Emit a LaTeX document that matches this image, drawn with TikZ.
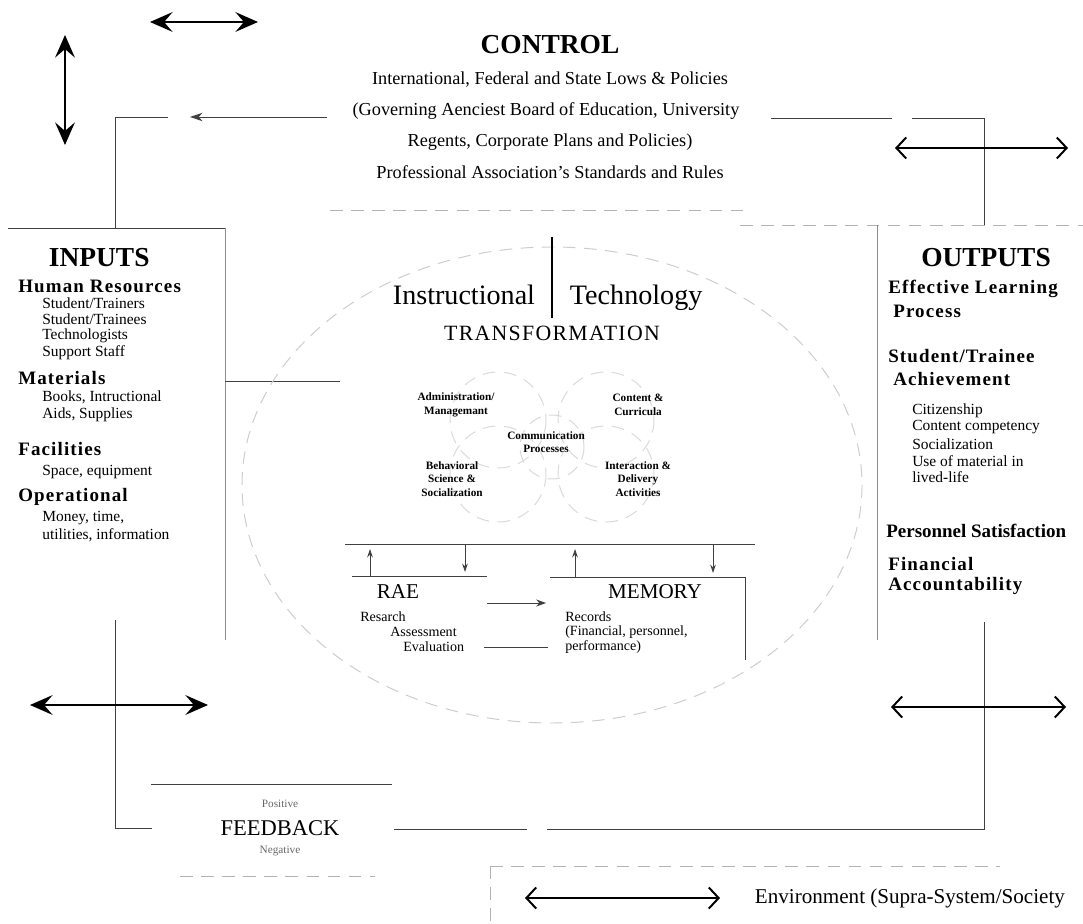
\documentclass[tikz,border=0pt]{standalone}
\usepackage{fontspec}
\setmainfont{Liberation Serif}
\newfontfamily\spaced[LetterSpace=6]{Liberation Serif}
\usetikzlibrary{arrows.meta,positioning}

\begin{document}
\begin{tikzpicture}[x=0.025cm, y=-0.025cm,
                    dbl/.style={{Stealth[length=16pt,width=14pt,inset=6pt]}-{Stealth[length=16pt,width=14pt,inset=6pt]}, line width=1.6pt},
                    barb/.style={{Straight Barb[length=7pt,width=15pt,line width=1.4pt]}-{Straight Barb[length=7pt,width=15pt,line width=1.4pt]}, line width=1.6pt},
                    wire/.style={black!75, line width=0.6pt},
                    edge/.style={black!45, line width=0.6pt},
                    faint/.style={black!30, line width=0.7pt, dash pattern=on 9pt off 6pt},
                    title/.style={font=\bfseries\fontsize{19.5}{22}\selectfont},
                    head/.style={anchor=west, inner sep=0pt, font=\spaced\bfseries\fontsize{13.5}{16}\selectfont},
                    item/.style={anchor=west, inner sep=0pt, font=\fontsize{11}{13}\selectfont},
                    ctrl/.style={inner sep=0pt, font=\fontsize{13}{15}\selectfont},
                    circ/.style={align=center, inner sep=0pt, font=\bfseries\fontsize{8}{9.5}\selectfont},
                    note/.style={anchor=west, inner sep=0pt, font=\fontsize{10}{12}\selectfont}]
\useasboundingbox (0,0) rectangle (1083,924);

% control
\node[title] (control) at (550,45) {CONTROL};
\node[ctrl] (laws) at (550,80) {International, Federal and State Lows \& Policies};
\node[ctrl] (gov) at (546,111) {(Governing Aenciest Board of Education, University};
\node[ctrl] (regents) at (550,142) {Regents, Corporate Plans and Policies)};
\node[ctrl] (prof) at (550,172) {Professional Association's Standards and Rules};

\coordinate (hzL) at (150,22);  \coordinate (hzR) at (258,22);
\coordinate (vtT) at (65,35);   \coordinate (vtB) at (65,145);
\draw[dbl] (hzL) -- (hzR);
\draw[dbl] (vtT) -- (vtB);

\coordinate (inTop) at (115,228);
\coordinate (ctlL) at (168,117);
\coordinate (ctlA) at (327,117);
\coordinate (ctlB) at (190,117);
\draw[wire] (inTop) |- (ctlL);
\draw[wire, -{Stealth[length=9pt,width=6pt]}] (ctlA) -- (ctlB);

\coordinate (ctlR1) at (771,118); \coordinate (ctlR2) at (892,118);
\coordinate (ctlR3) at (912,118); \coordinate (outTop) at (984,225);
\draw[wire] (ctlR1) -- (ctlR2);
\draw[wire] (ctlR3) -| (outTop);
\coordinate (trL) at (895,148); \coordinate (trR) at (1068,148);
\draw[barb] (trL) -- (trR);

% inputs
\draw[wire] (8,228) -- (225,228);
\draw[edge] (225,228) -- (225,640);
\node[title, anchor=west] (inputs) at (44,258) {INPUTS};
\node[head] (human) at (18,286) {Human Resources};
\node[item] (trainers) at (42,303) {Student/Trainers};
\node[item] (trainees) at (42,319) {Student/Trainees};
\node[item] (techs) at (42,336) {Technologists};
\node[item] (staff) at (42,353) {Support Staff};
\node[head] (materials) at (18,378) {Materials};
\node[item] (books) at (42,397) {Books, Intructional};
\node[item] (aids) at (42,415) {Aids, Supplies};
\node[head] (facilities) at (18,449) {Facilities};
\node[item] (space) at (42,472) {Space, equipment};
\node[head] (operational) at (18,497) {Operational};
\node[item] (money) at (42,518) {Money, time,};
\node[item] (utilities) at (42,535) {utilities, information};

\coordinate (inR) at (225,381); \coordinate (trIn) at (340,381);
\draw[wire] (inR) -- (trIn);

% outputs
\draw[faint] (740,225) -- (1083,225);
\draw[edge] (877,225) -- (877,640);
\node[title] (outputs) at (986,258) {OUTPUTS};
\node[head] (effective) at (888,289) {Effective Learning};
\node[head] (process) at (893,311) {Process};
\node[head] (achieve1) at (888,356) {Student/Trainee};
\node[head] (achieve2) at (893,379) {Achievement};
\node[item] (citizen) at (912,411) {Citizenship};
\node[item] (content) at (912,427) {Content competency};
\node[item] (social) at (912,444) {Socialization};
\node[item] (usemat) at (912,461) {Use of material in};
\node[item] (lived) at (912,477) {lived-life};
\node[head, font=\bfseries\fontsize{13.5}{16}\selectfont] (personnel) at (886,531) {Personnel Satisfaction};
\node[head] (financial) at (888,564) {Financial};
\node[head] (account) at (888,586) {Accountability};

% transformation
\draw[faint] (330,210) -- (745,210);
\draw[faint, black!20] (552,485) ellipse [x radius=310, y radius=238];
\coordinate (itTop) at (552,237); \coordinate (itBot) at (552,318);
\draw[line width=1pt] (itTop) -- (itBot);
\node[anchor=base east, font=\fontsize{20}{22}\selectfont] (instr) at (540,305) {Instructional};
\node[anchor=base west, font=\fontsize{20}{22}\selectfont] (techn) at (565,305) {Technology};
\node[font=\spaced\fontsize{15.5}{17}\selectfont] (transf) at (552,333) {TRANSFORMATION};

\foreach \cx/\cy in {498/420, 606/420, 498/474, 606/474}
  \draw[faint, black!15] (\cx,\cy) circle [radius=48];
\draw[faint, black!15] (552,447) circle [radius=32];
\node[circ] (admin) at (456,405) {Administration/\\Managemant};
\node[circ] (curric) at (638,405) {Content \&\\Curricula};
\node[circ] (comm) at (546,442) {Communication\\Processes};
\node[circ] (behav) at (452,479) {Behavioral\\Science \&\\Socialization};
\node[circ] (inter) at (638,479) {Interaction \&\\Delivery\\Activities};

% rae and memory
\coordinate (base1) at (345,544); \coordinate (base2) at (755,544);
\draw[wire] (base1) -- (base2);
\draw[wire] (352,576) -- (487,576);
\draw[wire] (550,577) -- (745,577) -- (745,660);
\draw[wire, -{Stealth[length=6pt,width=4pt]}] (370,576) -- (370,549);
\draw[wire, -{Stealth[length=6pt,width=4pt]}] (465,545) -- (465,572);
\draw[wire, -{Stealth[length=6pt,width=4pt]}] (575,577) -- (575,549);
\draw[wire, -{Stealth[length=6pt,width=4pt]}] (713,545) -- (713,573);
\node[font=\fontsize{15}{17}\selectfont] (rae) at (398,592) {RAE};
\node[font=\fontsize{15}{17}\selectfont] (memory) at (655,592) {MEMORY};
\node[note] (research) at (360,617) {Resarch};
\node[note] (assess) at (390,632) {Assessment};
\node[note] (evalu) at (403,647) {Evaluation};
\node[note] (records) at (565,617) {Records};
\node[note] (finan) at (565,632) {(Financial, personnel,};
\node[note] (perform) at (565,647) {performance)};
\coordinate (raeR) at (487,603); \coordinate (memL) at (546,603);
\draw[wire, -{Stealth[length=7pt,width=5pt]}] (raeR) -- (memL);
\coordinate (memB) at (548,647); \coordinate (raeB) at (484,647);
\draw[wire] (memB) -- (raeB);

% feedback
\coordinate (inBot) at (115,620); \coordinate (fbL) at (152,828);
\draw[wire] (inBot) |- (fbL);
\coordinate (lwL) at (30,705); \coordinate (lwR) at (208,705);
\draw[dbl] (lwL) -- (lwR);
\draw[wire] (151,784) -- (392,784);
\draw[faint] (180,876) -- (375,876);
\node[font=\fontsize{8}{9}\selectfont, text=black!60] (pos) at (280,804) {Positive};
\node[font=\fontsize{16}{18}\selectfont] (feedback) at (280,828) {FEEDBACK};
\node[font=\fontsize{8}{9}\selectfont, text=black!60] (neg) at (280,851) {Negative};
\coordinate (fbR1) at (394,829); \coordinate (fbR2) at (527,829);
\coordinate (fbR3) at (547,829); \coordinate (outBot) at (984,622);
\draw[wire] (fbR1) -- (fbR2);
\draw[wire] (fbR3) -| (outBot);
\coordinate (brL) at (891,707); \coordinate (brR) at (1066,707);
\draw[barb] (brL) -- (brR);

% legend
\draw[faint] (490,866) -- (1000,866);
\draw[faint] (490,866) -- (490,924);
\coordinate (lgL) at (525,898); \coordinate (lgR) at (720,898);
\draw[barb] (lgL) -- (lgR);
\node[anchor=west, font=\fontsize{15}{17}\selectfont] (env) at (750,898) {Environment (Supra-System/Society};
\end{tikzpicture}
\end{document}
